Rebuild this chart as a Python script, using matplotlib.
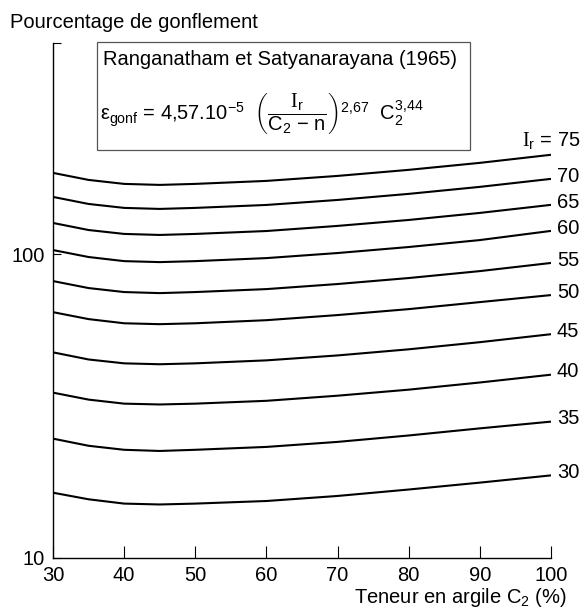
import numpy as np
import matplotlib
matplotlib.use('Agg')
import matplotlib.pyplot as plt
from matplotlib.patches import Rectangle

plt.rcParams['font.family'] = ['Liberation Sans', 'DejaVu Sans']
plt.rcParams['mathtext.fontset'] = 'custom'
plt.rcParams['mathtext.rm'] = 'Liberation Sans'
plt.rcParams['mathtext.it'] = 'Liberation Sans'
plt.rcParams['mathtext.cal'] = 'Liberation Serif'
plt.rcParams['mathtext.default'] = 'regular'

FS = 14.5

# teneur en argile C2 (%)
clay = [30, 35, 40, 45, 50, 60, 70, 80, 90, 100]

# pourcentage de gonflement, une courbe par indice Ir
ir_values = [75, 70, 65, 60, 55, 50, 45, 40, 35, 30]
swell_75 = [185.0, 175.4, 170.2, 168.9, 170.2, 174.1, 180.8, 189.3, 199.6, 212.2]
swell_70 = [154.2, 146.2, 141.9, 140.8, 141.9, 145.1, 150.7, 157.8, 166.4, 176.8]
swell_65 = [126.6, 120.0, 116.5, 115.6, 116.5, 119.1, 123.8, 129.5, 136.6, 145.2]
swell_60 = [103.1, 97.8, 94.8, 94.1, 94.8, 97.0, 100.8, 105.5, 111.2, 119.2]
swell_55 = [81.5, 77.3, 75.0, 74.4, 75.0, 76.7, 79.7, 83.4, 87.9, 93.5]
swell_50 = [64.4, 61.1, 59.2, 58.8, 59.2, 60.6, 63.0, 65.9, 69.5, 73.3]
swell_45 = [47.5, 45.0, 43.7, 43.4, 43.7, 44.7, 46.4, 48.6, 51.3, 54.5]
swell_40 = [35.0, 33.2, 32.2, 32.0, 32.2, 32.9, 34.2, 35.8, 37.8, 40.1]
swell_35 = [24.7, 23.4, 22.7, 22.5, 22.7, 23.2, 24.1, 25.3, 26.7, 28.1]
swell_30 = [16.4, 15.6, 15.1, 15.0, 15.1, 15.4, 16.0, 16.8, 17.7, 18.7]
curves = [swell_75, swell_70, swell_65, swell_60, swell_55,
          swell_50, swell_45, swell_40, swell_35, swell_30]

x_ticks = [30, 40, 50, 60, 70, 80, 90, 100]
y_ticks = [10, 100, 495]
y_ticklabels = ['10', '100', '']

fig = plt.figure(figsize=(5.82, 6.15), dpi=100)
ax = fig.add_axes([0.0911, 0.0927, 0.8556, 0.8374])

for ir, vals in zip(ir_values, curves):
    ax.plot(clay, vals, color='black', lw=1.5, solid_capstyle='butt')
    if ir == 75:
        ax.annotate(r'$\mathcal{I}_\mathrm{r}$ = 75', xy=(clay[-1], vals[-1]),
                    xytext=(-21, 5.5), textcoords='offset points',
                    ha='left', va='baseline', fontsize=FS)
    else:
        ax.annotate(str(ir), xy=(clay[-1], vals[-1]), xytext=(4.3, 2),
                    textcoords='offset points', ha='left', va='center',
                    fontsize=FS)

ax.set_yscale('log')
ax.set_xlim(30, 100)
ax.set_ylim(10, 495)
ax.set_xticks(x_ticks)
ax.set_xticklabels([str(t) for t in x_ticks])
ax.set_yticks(y_ticks)
ax.set_yticklabels(y_ticklabels)
ax.minorticks_off()
ax.tick_params(axis='x', direction='in', length=9, width=0.8, labelsize=FS, pad=6)
ax.tick_params(axis='y', direction='in', length=6, width=0.8, labelsize=FS, pad=6)

for side in ['top', 'right']:
    ax.spines[side].set_visible(False)
for side in ['left', 'bottom']:
    ax.spines[side].set_linewidth(1.0)

# encadre avec la formule
ax.add_patch(Rectangle((0.0884, 0.792), 0.7486, 0.21, transform=ax.transAxes,
                       fill=False, edgecolor='#555555', lw=0.9, clip_on=False))
ax.text(0.1004, 0.967, 'Ranganatham et Satyanarayana (1965)',
        transform=ax.transAxes, ha='left', va='center', fontsize=FS)
ax.text(0.094, 0.864,
        r'$\varepsilon_{\mathrm{gonf}}$ = 4,57.10$^{-5}$  '
        r'$\left(\dfrac{\mathcal{I}_\mathrm{r}}{C_2\ \mathrm{-}\ n}\right)^{2{,}67}$  '
        r'$C_2^{3{,}44}$',
        transform=ax.transAxes, ha='left', va='center', fontsize=FS)

fig.text(0.017, 0.964, 'Pourcentage de gonflement', ha='left', va='center', fontsize=FS)
fig.text(0.974, 0.028, r'Teneur en argile C$_2$ (%)', ha='right', va='center', fontsize=FS)

fig.savefig('out.png', dpi=100)
